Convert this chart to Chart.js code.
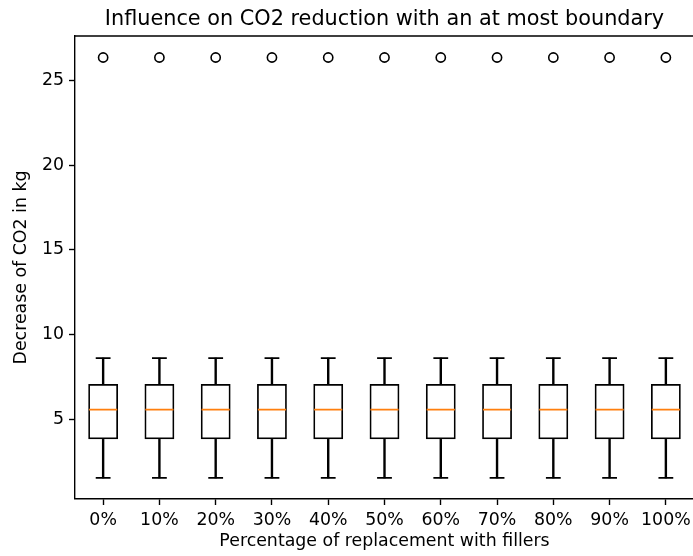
<!DOCTYPE html>
<html>
<head>
<meta charset="utf-8">
<script src="https://cdn.jsdelivr.net/npm/chart.js@4.4.1/dist/chart.umd.min.js"></script>
<style>
html, body { margin: 0; padding: 0; background: #fff; overflow: hidden; }
#wrap { width: 693px; height: 556px; overflow: hidden; }
canvas { display: block; }
</style>
</head>
<body>
<div id="wrap"><canvas id="c" width="720" height="556"></canvas></div>
<script>
const categories = ['0%', '10%', '20%', '30%', '40%', '50%', '60%', '70%', '80%', '90%', '100%'];
const whiskerLow = [1.53, 1.53, 1.53, 1.53, 1.53, 1.53, 1.53, 1.53, 1.53, 1.53, 1.53];
const q1 = [3.81, 3.81, 3.81, 3.81, 3.81, 3.81, 3.81, 3.81, 3.81, 3.81, 3.81];
const median = [5.57, 5.57, 5.57, 5.57, 5.57, 5.57, 5.57, 5.57, 5.57, 5.57, 5.57];
const q3 = [7.08, 7.08, 7.08, 7.08, 7.08, 7.08, 7.08, 7.08, 7.08, 7.08, 7.08];
const whiskerHigh = [8.61, 8.61, 8.61, 8.61, 8.61, 8.61, 8.61, 8.61, 8.61, 8.61, 8.61];
const outliers = [26.35, 26.35, 26.35, 26.35, 26.35, 26.35, 26.35, 26.35, 26.35, 26.35, 26.35];
const yTicks = [5, 10, 15, 20, 25];
const yMin = 0.29, yMax = 27.62;

const FONT = 'DejaVu Sans';
const LW = 1.74;

const spinePlugin = {
  id: 'spines',
  afterDatasetsDraw(chart) {
    const {ctx, chartArea: a} = chart;
    ctx.save();
    ctx.strokeStyle = '#000';
    ctx.lineWidth = 1.39;
    ctx.beginPath();
    ctx.moveTo(a.left, a.top);
    ctx.lineTo(a.right, a.top);
    ctx.lineTo(a.right, a.bottom);
    ctx.stroke();
    ctx.restore();
  }
};

new Chart(document.getElementById('c'), {
  type: 'bar',
  data: {
    labels: categories,
    datasets: [
      {
        type: 'bar',
        data: categories.map((_, i) => [q1[i], q3[i]]),
        backgroundColor: 'rgba(255,255,255,0)',
        borderColor: '#000',
        borderWidth: LW,
        borderSkipped: false,
        grouped: false,
        categoryPercentage: 1,
        barPercentage: 0.53,
        order: 3
      },
      {
        type: 'bar',
        data: categories.map((_, i) => [q3[i], whiskerHigh[i]]),
        backgroundColor: '#000',
        borderWidth: 0,
        grouped: false,
        barThickness: LW,
        order: 4
      },
      {
        type: 'bar',
        data: categories.map((_, i) => [whiskerLow[i], q1[i]]),
        backgroundColor: '#000',
        borderWidth: 0,
        grouped: false,
        barThickness: LW,
        order: 4
      },
      {
        type: 'line',
        data: whiskerHigh,
        showLine: false,
        pointStyle: 'line',
        pointRadius: 7.4,
        pointHoverRadius: 7.4,
        pointBorderWidth: LW,
        borderColor: '#000',
        pointBorderColor: '#000',
        order: 2
      },
      {
        type: 'line',
        data: whiskerLow,
        showLine: false,
        pointStyle: 'line',
        pointRadius: 7.4,
        pointHoverRadius: 7.4,
        pointBorderWidth: LW,
        borderColor: '#000',
        pointBorderColor: '#000',
        order: 2
      },
      {
        type: 'line',
        data: median,
        showLine: false,
        pointStyle: 'line',
        pointRadius: 14.1,
        pointHoverRadius: 14.1,
        pointBorderWidth: LW,
        borderColor: '#ff7f0e',
        pointBorderColor: '#ff7f0e',
        order: 1
      },
      {
        type: 'line',
        data: outliers,
        showLine: false,
        pointStyle: 'circle',
        pointRadius: 4.6,
        pointHoverRadius: 4.6,
        pointBorderWidth: 1.6,
        borderColor: '#000',
        pointBorderColor: '#000',
        pointBackgroundColor: 'rgba(0,0,0,0)',
        order: 1
      }
    ]
  },
  options: {
    responsive: false,
    devicePixelRatio: 1,
    animation: false,
    events: [],
    layout: { padding: { left: 0, right: 26, top: 0, bottom: 0 } },
    plugins: {
      legend: { display: false },
      tooltip: { enabled: false },
      title: {
        display: true,
        fullSize: false,
        text: 'Influence on CO2 reduction with an at most boundary',
        color: '#000',
        font: { family: FONT, size: 20.8, weight: 'normal', lineHeight: 1.2 },
        padding: { top: 7, bottom: 4 }
      }
    },
    scales: {
      x: {
        type: 'category',
        offset: true,
        grid: { display: true, drawOnChartArea: false, offset: false, tickLength: 6, tickWidth: 1.39, tickColor: '#000' },
        border: { display: true, color: '#000', width: 1.39 },
        ticks: { color: '#000', font: { family: FONT, size: 17.36 }, padding: 5, maxRotation: 0, autoSkip: false },
        title: {
          display: true,
          text: 'Percentage of replacement with fillers',
          color: '#000',
          font: { family: FONT, size: 17.36, lineHeight: 1.2 },
          padding: { top: 0, bottom: 4 }
        },
        afterFit(s) { s.height = 57; }
      },
      y: {
        type: 'linear',
        min: yMin,
        max: yMax,
        afterBuildTicks(s) { s.ticks = yTicks.map(v => ({ value: v })); },
        grid: { display: true, drawOnChartArea: false, tickLength: 6, tickWidth: 1.39, tickColor: '#000' },
        border: { display: true, color: '#000', width: 1.39 },
        ticks: { color: '#000', font: { family: FONT, size: 17.36 }, padding: 5 },
        title: {
          display: true,
          text: 'Decrease of CO2 in kg',
          color: '#000',
          font: { family: FONT, size: 17.36, lineHeight: 1.2 },
          padding: { top: 11, bottom: 0 }
        },
        afterFit(s) { s.width = 75; }
      }
    }
  },
  plugins: [spinePlugin]
});
</script>
</body>
</html>
